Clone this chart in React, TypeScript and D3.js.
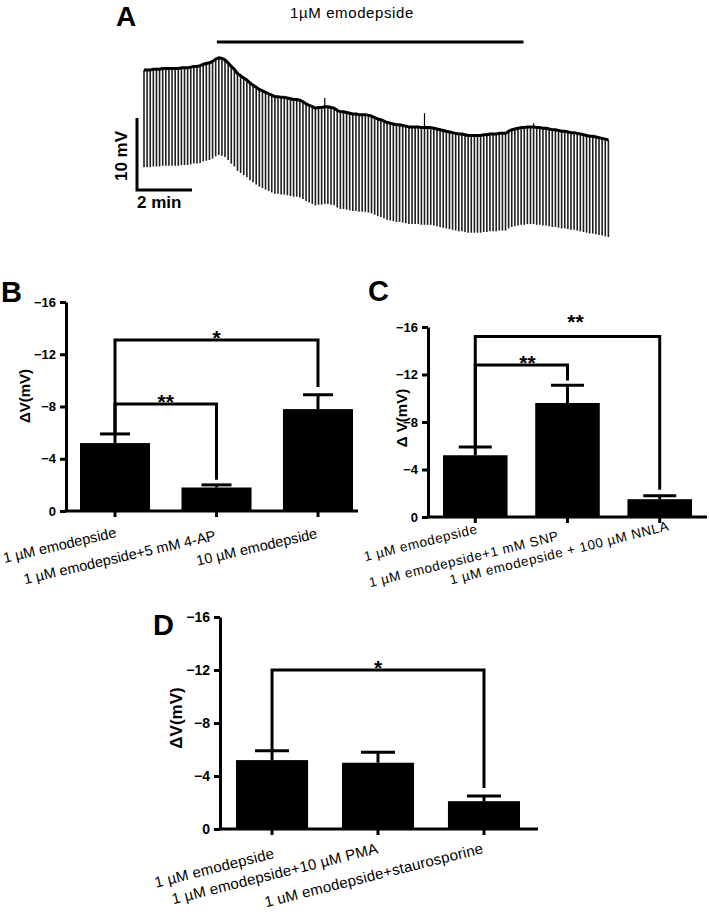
import React, { useEffect, useRef } from 'react';
import * as d3 from 'd3';

// ---- panel A: current-clamp trace ----
// resting potential read at each test pulse (mV, relative to the start)
const restMv = [
  0, 0, 0, 0.1, 0.1, 0.1, 0.2, 0.2, 0.2, 0.2,
  0.2, 0.2, 0.3, 0.3, 0.3, 0.4, 0.5, 0.5, 0.6, 0.8,
  0.9, 1.0, 1.2, 1.5, 1.7, 1.6, 1.4, 1.0, 0.5, 0.1,
  -0.5, -0.8, -1.1, -1.4, -1.8, -2.1, -2.4, -2.7, -2.9, -3.1,
  -3.3, -3.5, -3.7, -3.7, -3.8, -3.8, -3.9, -4.0, -4.1, -4.1,
  -4.2, -4.4, -4.7, -4.9, -5.1, -5.3, -5.2, -5.2, -5.1, -5.1,
  -5.2, -5.3, -5.6, -5.8, -5.8, -5.9, -6.0, -6.1, -6.1, -6.2,
  -6.2, -6.2, -6.3, -6.4, -6.6, -6.8, -6.9, -7.1, -7.3, -7.4,
  -7.5, -7.6, -7.6, -7.7, -7.8, -7.9, -7.9, -7.9, -7.9, -8.0,
  -8.0, -8.0, -8.0, -8.1, -8.2, -8.3, -8.4, -8.5, -8.6, -8.7,
  -8.8, -8.9, -8.9, -9.0, -9.1, -9.1, -9.1, -9.1, -9.1, -9.0,
  -9.0, -8.9, -8.9, -8.9, -8.8, -8.8, -8.8, -8.5, -8.3, -8.2,
  -8.1, -8.0, -8.0, -7.9, -7.9, -7.9, -8.0, -8.0, -8.1, -8.1,
  -8.2, -8.3, -8.3, -8.4, -8.5, -8.5, -8.6, -8.7, -8.7, -8.8,
  -8.9, -9.0, -9.1, -9.2, -9.2, -9.3, -9.4, -9.5, -9.6, -9.7,
];
const pulseStepMv = -13.5;
const pulseIntervalSec = 6.8;
const spikes = [
  { pulse: 58, mv: 1.2 },
  { pulse: 90, mv: 2.0 },
  { pulse: 125, mv: 0.5 },
];
const drugOnMin = 2.65;
const drugOffMin = 13.8;
const drugLabel = '1µM emodepside';
const scaleMv = 10;
const scaleMin = 2;

// ---- panels B-D: ΔV bars ----
const yTicks = [0, -4, -8, -12, -16];

const catsB = ['1 µM emodepside', '1 µM emodepside+5 mM 4-AP', '10 µM emodepside'];
const meanB = [-5.2, -1.8, -7.8];
const semB = [0.7, 0.2, 1.1];
const sigB = [
  { from: 0, to: 2, at: -13.1, leg: -9.5, label: '*' },
  { from: 0, to: 1, at: -8.2, leg: -2.4, label: '**' },
];

const catsC = ['1  µM emodepside', '1  µM emodepside+1 mM SNP', '1  µM emodepside + 100  µM NNLA'];
const meanC = [-5.2, -9.6, -1.5];
const semC = [0.7, 1.5, 0.3];
const sigC = [
  { from: 0, to: 1, at: -12.8, leg: -11.5, label: '**' },
  { from: 0, to: 2, at: -15.2, leg: -2.3, label: '**' },
];

const catsD = ['1  µM emodepside', '1  µM emodepside+10  µM PMA', '1 uM emodepside+staurosporine'];
const meanD = [-5.2, -5.0, -2.1];
const semD = [0.7, 0.8, 0.4];
const sigD = [{ from: 0, to: 2, at: -12.0, leg: -3.1, label: '*' }];

const FONT = '"Liberation Sans", Arial, Helvetica, sans-serif';

function drawBars(svg, cats, means, sems, sigs, o) {
  const g = svg.append('g');
  const y = d3.scaleLinear().domain([0, -16]).range([o.y0, o.y16]);
  const x = d3.scaleBand().domain(cats).range([o.bandStart, o.bandEnd]).paddingInner(o.pad);
  const cx = (i) => x(cats[i]) + x.bandwidth() / 2;

  // bars
  g.selectAll('rect.bar')
    .data(cats)
    .enter()
    .append('rect')
    .attr('x', (d) => x(d))
    .attr('width', x.bandwidth())
    .attr('y', (d, i) => y(means[i]))
    .attr('height', (d, i) => y(0) - y(means[i]))
    .attr('fill', '#000');

  // error bars
  cats.forEach((c, i) => {
    const top = y(means[i] - sems[i]);
    g.append('line')
      .attr('x1', cx(i)).attr('x2', cx(i))
      .attr('y1', y(means[i])).attr('y2', top)
      .attr('stroke', '#000').attr('stroke-width', 3);
    g.append('line')
      .attr('x1', cx(i) - o.capW / 2).attr('x2', cx(i) + o.capW / 2)
      .attr('y1', top).attr('y2', top)
      .attr('stroke', '#000').attr('stroke-width', 3);
  });

  // y axis
  const ax = g.append('g')
    .attr('transform', `translate(${o.axisX},0)`)
    .call(d3.axisLeft(y).tickValues(yTicks).tickSize(6).tickSizeOuter(0).tickPadding(4).tickFormat(d3.format('d')));
  ax.select('.domain').attr('stroke', '#000').attr('stroke-width', 3);
  ax.selectAll('.tick line').attr('stroke', '#000').attr('stroke-width', 3);
  ax.selectAll('.tick text')
    .attr('font-family', FONT)
    .attr('font-weight', 'bold')
    .attr('font-size', o.tickFont)
    .attr('fill', '#000');

  // x axis
  g.append('line')
    .attr('x1', o.axisX - 1.5).attr('x2', o.axisEnd)
    .attr('y1', o.y0).attr('y2', o.y0)
    .attr('stroke', '#000').attr('stroke-width', 3);
  cats.forEach((c, i) => {
    g.append('line')
      .attr('x1', cx(i)).attr('x2', cx(i))
      .attr('y1', o.y0).attr('y2', o.y0 + 6)
      .attr('stroke', '#000').attr('stroke-width', 3);
    g.append('text')
      .attr('transform', `translate(${cx(i) + o.catDx[i]},${o.y0 + o.catDy[i]}) rotate(${o.rot})`)
      .attr('text-anchor', 'end')
      .attr('font-family', FONT)
      .attr('font-size', o.catFont)
      .attr('letter-spacing', o.catSpacing)
      .attr('fill', '#000')
      .text(c);
  });

  // significance brackets
  sigs.forEach((s, k) => {
    const x1 = cx(s.from);
    const x2 = cx(s.to);
    const yl = y(means[s.from] - sems[s.from]);
    g.append('path')
      .attr('d', `M${x1},${yl}V${y(s.at)}H${x2}V${y(s.leg)}`)
      .attr('fill', 'none')
      .attr('stroke', '#000')
      .attr('stroke-width', 3);
    const off = (o.starOff && o.starOff[k]) || [0, 0];
    g.append('text')
      .attr('x', (x1 + x2) / 2 + off[0])
      .attr('y', y(s.at) + 5 - off[1])
      .attr('text-anchor', 'middle')
      .attr('font-family', FONT)
      .attr('font-weight', 'bold')
      .attr('font-size', 21)
      .text(s.label);
  });

  // y label
  g.append('text')
    .attr('transform', `translate(${o.yLabelX},${o.yLabelY}) rotate(-90)`)
    .attr('text-anchor', 'middle')
    .attr('font-family', FONT)
    .attr('font-weight', 'bold')
    .attr('font-size', o.yLabelFont)
    .text(o.yLabel);

  // panel letter
  g.append('text')
    .attr('x', o.letterX)
    .attr('y', o.letterY)
    .attr('font-family', FONT)
    .attr('font-weight', 'bold')
    .attr('font-size', 29)
    .text(o.letter);
}

function drawTrace(svg) {
  const g = svg.append('g');
  const nPulse = restMv.length;
  const tEnd = ((nPulse - 1) * pulseIntervalSec) / 60;
  const x = d3.scaleLinear().domain([0, tEnd]).range([144, 144 + tEnd * 27.5]);
  const y = d3.scaleLinear().domain([0, -scaleMv]).range([70, 142]);
  const tAt = (i) => (i * pulseIntervalSec) / 60;

  // test pulses (hyperpolarizing steps)
  g.selectAll('line.pulse')
    .data(restMv)
    .enter()
    .append('line')
    .attr('x1', (d, i) => x(tAt(i)))
    .attr('x2', (d, i) => x(tAt(i)))
    .attr('y1', (d) => y(d))
    .attr('y2', (d) => y(d + pulseStepMv))
    .attr('stroke', '#1e1e1e')
    .attr('stroke-width', 1.6);

  // small upward transients
  spikes.forEach((s) => {
    g.append('line')
      .attr('x1', x(tAt(s.pulse))).attr('x2', x(tAt(s.pulse)))
      .attr('y1', y(restMv[s.pulse])).attr('y2', y(restMv[s.pulse] + s.mv))
      .attr('stroke', '#000').attr('stroke-width', 1.2);
  });

  // resting membrane potential
  const line = d3.line()
    .x((d, i) => x(tAt(i)))
    .y((d) => y(d));
  g.append('path')
    .attr('d', line(restMv))
    .attr('fill', 'none')
    .attr('stroke', '#000')
    .attr('stroke-width', 3)
    .attr('stroke-linejoin', 'round');

  // drug application bar
  g.append('line')
    .attr('x1', x(drugOnMin)).attr('x2', x(drugOffMin))
    .attr('y1', 42).attr('y2', 42)
    .attr('stroke', '#000').attr('stroke-width', 3);
  g.append('text')
    .attr('x', 352).attr('y', 18)
    .attr('text-anchor', 'middle')
    .attr('font-family', FONT)
    .attr('font-size', 15)
    .attr('letter-spacing', 0.6)
    .text(drugLabel);

  // scale bar
  const sx = 137;
  const sy = 190;
  const vLen = y(-scaleMv) - y(0);
  const hLen = x(scaleMin) - x(0);
  g.append('path')
    .attr('d', `M${sx},${sy - vLen}V${sy}H${sx + hLen}`)
    .attr('fill', 'none')
    .attr('stroke', '#000')
    .attr('stroke-width', 3);
  g.append('text')
    .attr('transform', `translate(${sx - 10},${sy - vLen / 2 + 2}) rotate(-90)`)
    .attr('text-anchor', 'middle')
    .attr('font-family', FONT)
    .attr('font-weight', 'bold')
    .attr('font-size', 17)
    .text(`${scaleMv} mV`);
  g.append('text')
    .attr('x', sx)
    .attr('y', sy + 18)
    .attr('font-family', FONT)
    .attr('font-weight', 'bold')
    .attr('font-size', 17)
    .text(`${scaleMin} min`);

  g.append('text')
    .attr('x', 116).attr('y', 26)
    .attr('font-family', FONT)
    .attr('font-weight', 'bold')
    .attr('font-size', 28)
    .text('A');
}

const App = () => {
  const ref = useRef(null);

  useEffect(() => {
    const svg = d3.select(ref.current);
    svg.selectAll('*').remove();

    drawTrace(svg);

    drawBars(svg, catsB, meanB, semB, sigB, {
      letter: 'B', letterX: 1, letterY: 302,
      axisX: 66, axisEnd: 358, y0: 511, y16: 302,
      bandStart: 80, bandEnd: 353, pad: 0.31, capW: 30,
      tickFont: 13, yLabel: 'ΔV(mV)', yLabelX: 30, yLabelY: 396, yLabelFont: 15,
      catFont: 14.5, catSpacing: 0, catDx: [2, 0, 0], catDy: [26, 29, 27], rot: -13,
    });

    drawBars(svg, catsC, meanC, semC, sigC, {
      letter: 'C', letterX: 368, letterY: 301,
      axisX: 428, axisEnd: 707, y0: 517, y16: 327,
      bandStart: 443, bandEnd: 692, pad: 0.3, capW: 33,
      tickFont: 13, yLabel: 'Δ V(mV)', yLabelX: 407, yLabelY: 418, yLabelFont: 15,
      catFont: 13.5, catSpacing: 0.6, catDx: [3, -8, 10], catDy: [16, 23, 13], rot: -14,
      starOff: [[6, 0], [8, 13]],
    });

    drawBars(svg, catsD, meanD, semD, sigD, {
      letter: 'D', letterX: 153, letterY: 635,
      axisX: 220, axisEnd: 538, y0: 829, y16: 617,
      bandStart: 236, bandEnd: 520, pad: 0.32, capW: 34,
      tickFont: 14, yLabel: 'ΔV(mV)', yLabelX: 182, yLabelY: 718, yLabelFont: 17,
      catFont: 15, catSpacing: 0.2, catDx: [3, 1, 0], catDy: [29, 24, 24], rot: -14,
    });

    return () => {
      svg.selectAll('*').remove();
    };
  }, []);

  return (
    <svg
      ref={ref}
      width={709}
      height={914}
      style={{ position: 'absolute', left: 0, top: 0, background: '#fff' }}
    />
  );
};

export default App;
